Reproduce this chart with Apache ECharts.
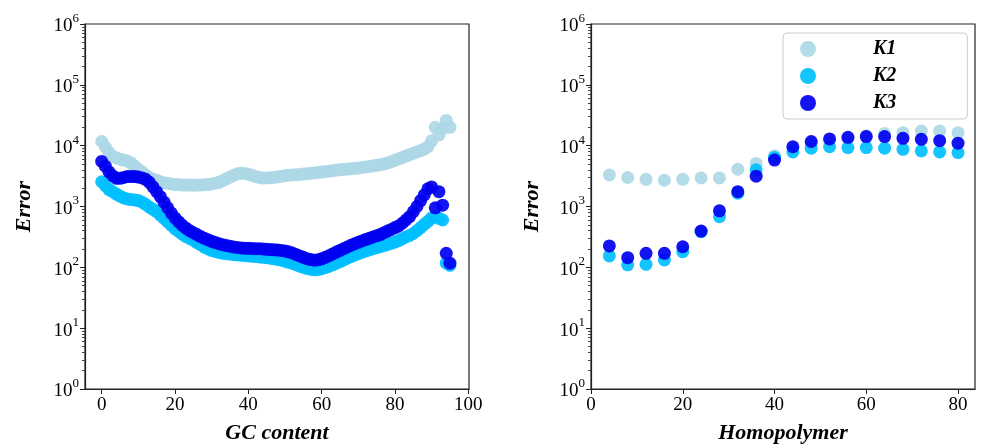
<!DOCTYPE html>
<html>
<head>
<meta charset="utf-8">
<script src="https://cdn.jsdelivr.net/npm/echarts@6/dist/echarts.min.js"></script>
<style>
  html, body { margin: 0; padding: 0; background: #fff; }
  #chart { width: 982px; height: 444px; }
</style>
</head>
<body>
<div id="chart"></div>
<script>
// left panel: error vs GC content
var gcContent = [0, 1, 2, 3, 4, 5, 6, 7, 8, 9, 10, 11, 12, 13, 14, 15, 16, 17, 18, 19,
  20, 21, 22, 23, 24, 25, 26, 27, 28, 29, 30, 31, 32, 33, 34, 35, 36, 37, 38, 39,
  40, 41, 42, 43, 44, 45, 46, 47, 48, 49, 50, 51, 52, 53, 54, 55, 56, 57, 58, 59,
  60, 61, 62, 63, 64, 65, 66, 67, 68, 69, 70, 71, 72, 73, 74, 75, 76, 77, 78, 79,
  80, 81, 82, 83, 84, 85, 86, 87, 88, 89, 90, 91, 92, 93, 94, 95];
var gcK1 = [11700, 9500, 7800, 6700, 6300, 6000, 5800, 5600, 5200, 4600,
  4100, 3700, 3300, 3000, 2800, 2700, 2550, 2450, 2400, 2350,
  2300, 2280, 2260, 2250, 2250, 2240, 2250, 2260, 2280, 2300,
  2350, 2420, 2500, 2650, 2850, 3050, 3250, 3450, 3520, 3500,
  3400, 3250, 3100, 3000, 2950, 2950, 2980, 3020, 3080, 3150,
  3200, 3250, 3300, 3330, 3370, 3420, 3470, 3520, 3570, 3620,
  3680, 3740, 3800, 3870, 3950, 4000, 4060, 4120, 4180, 4240,
  4300, 4380, 4460, 4550, 4650, 4750, 4850, 5000, 5200, 5450,
  5750, 6050, 6400, 6750, 7100, 7500, 7900, 8300, 8800, 9600,
  12000, 20000, 15000, 19000, 26000, 20000];
var gcK2 = [2550, 2200, 1900, 1750, 1600, 1480, 1380, 1330, 1300, 1280,
  1250, 1180, 1080, 980, 900, 820, 720, 640, 560, 490,
  430, 390, 350, 320, 300, 280, 255, 235, 215, 200,
  190, 182, 176, 171, 168, 165, 162, 160, 158, 156,
  154, 152, 150, 148, 146, 144, 141, 138, 135, 131,
  126, 121, 117, 111, 105, 100, 96, 93, 91, 92,
  95, 99, 104, 110, 117, 124, 132, 141, 150, 159,
  168, 177, 185, 194, 202, 210, 218, 228, 238, 248,
  260, 275, 295, 315, 335, 360, 400, 450, 510, 570,
  650, 690, 640, 600, 117, 108];
var gcK3 = [5500, 4600, 3700, 3200, 2900, 2900, 3000, 3100, 3100, 3100,
  3050, 2950, 2800, 2500, 2100, 1750, 1450, 1180, 950, 780,
  650, 560, 490, 440, 400, 370, 345, 320, 300, 283,
  268, 255, 245, 236, 228, 222, 216, 212, 208, 206,
  205, 204, 203, 202, 200, 198, 196, 194, 192, 190,
  186, 180, 172, 163, 154, 146, 139, 134, 131, 133,
  138, 146, 155, 166, 178, 190, 203, 216, 230, 244,
  258, 272, 286, 300, 315, 330, 345, 370, 395, 420,
  450, 480, 530, 600, 680, 820, 1000, 1250, 1550, 1950,
  2100, 950, 1750, 1050, 170, 117];

// right panel: error vs homopolymer length
var homopolymer = [4, 8, 12, 16, 20, 24, 28, 32, 36, 40, 44, 48, 52, 56, 60, 64, 68, 72, 76, 80];
var hpK1 = [3300, 3000, 2800, 2700, 2800, 2950, 2950, 4100, 5100, 6800,
  9000, 11000, 12000, 13000, 14500, 15900, 16300, 17400, 17400, 16300];
var hpK2 = [154, 110, 112, 132, 181, 385, 680, 1650, 4000, 6400,
  7900, 9100, 9600, 9300, 9300, 9100, 8700, 8200, 7900, 7700];
var hpK3 = [225, 144, 170, 170, 218, 395, 850, 1750, 3150, 5800,
  9600, 11700, 12900, 13700, 14100, 14100, 13200, 12700, 12100, 11000];

var seriesNames = ['K1', 'K2', 'K3'];
var colors = ['#add8e6', '#00bfff', '#0000f0'];
var gcTicks = [0, 20, 40, 60, 80, 100];
var hpTicks = [0, 20, 40, 60, 80];
var yTicks = [1, 10, 100, 1000, 10000, 100000, 1000000];

var yMinor = [];
yTicks.slice(0, -1).forEach(function (d) {
  for (var m = 2; m <= 9; m++) yMinor.push(d * m);
});

function pairs(xs, ys) {
  return xs.map(function (x, i) { return [x, ys[i]]; });
}

var serif = 'Liberation Serif';

function xAxisFor(grid, min, max, ticks, name) {
  return {
    type: 'value', gridIndex: grid, min: min, max: max, position: 'bottom',
    name: name, nameLocation: 'middle', nameGap: 33,
    nameTextStyle: { fontFamily: serif, fontSize: 22, fontWeight: 'bold', fontStyle: 'italic', color: '#000' },
    axisLine: { show: true, onZero: false, lineStyle: { color: '#222', width: 1.2 } },
    axisTick: { show: true, inside: false, length: 5, customValues: ticks, lineStyle: { color: '#222' } },
    axisLabel: { customValues: ticks, fontFamily: serif, fontSize: 19, color: '#000', margin: 7 },
    splitLine: { show: false }
  };
}

function yAxisFor(grid, gap) {
  return {
    type: 'log', logBase: 10, gridIndex: grid, min: 1, max: 1000000, position: 'left',
    name: 'Error', nameLocation: 'middle', nameGap: gap, nameRotate: 90,
    nameTextStyle: { fontFamily: serif, fontSize: 22, fontWeight: 'bold', fontStyle: 'italic', color: '#000' },
    axisLine: { show: true, onZero: false, lineStyle: { color: '#222', width: 1.2 } },
    axisTick: { show: true, length: 5, customValues: yTicks, lineStyle: { color: '#222' } },
    axisLabel: {
      customValues: yTicks, margin: 6,
      formatter: function (v) {
        return '{b|10}{s|' + Math.round(Math.log10(v)) + '}';
      },
      rich: {
        b: { fontFamily: serif, fontSize: 19, color: '#000', lineHeight: 24, verticalAlign: 'bottom' },
        s: { fontFamily: serif, fontSize: 13, color: '#000', lineHeight: 24, verticalAlign: 'top' }
      }
    },
    splitLine: { show: false }
  };
}

function minorAxisFor(grid) {
  return {
    type: 'log', logBase: 10, gridIndex: grid, min: 1, max: 1000000, position: 'left',
    axisLine: { show: false, onZero: false },
    axisTick: { show: true, length: 3, customValues: yMinor, lineStyle: { color: '#444' } },
    axisLabel: { show: false },
    splitLine: { show: false }
  };
}

function scatter(name, i, xIdx, yIdx, data) {
  return {
    name: name, type: 'scatter', xAxisIndex: xIdx, yAxisIndex: yIdx,
    symbolSize: 13, data: data,
    itemStyle: { color: colors[i], opacity: 0.92 },
    emphasis: { disabled: true }
  };
}

var chart = echarts.init(document.getElementById('chart'));

var option = {
  animation: false,
  backgroundColor: '#fff',
  grid: [
    { left: 85, top: 24, width: 384, height: 365, outerBoundsMode: 'none', containLabel: false,
      show: true, borderColor: '#222', borderWidth: 1.2 },
    { left: 591, top: 24, width: 384, height: 365, outerBoundsMode: 'none', containLabel: false,
      show: true, borderColor: '#222', borderWidth: 1.2 }
  ],
  xAxis: [
    xAxisFor(0, -4.55, 100.2, gcTicks, 'GC content'),
    xAxisFor(1, 0, 83.7, hpTicks, 'Homopolymer')
  ],
  yAxis: [
    yAxisFor(0, 50), minorAxisFor(0),
    yAxisFor(1, 48), minorAxisFor(1)
  ],
  legend: {
    data: seriesNames,
    orient: 'vertical', left: 783, top: 33,
    icon: 'circle', itemWidth: 16, itemHeight: 16, itemGap: 7,
    padding: [6, 71, 6, 17],
    borderColor: '#ccc', borderWidth: 1, borderRadius: 4,
    textStyle: { fontFamily: serif, fontSize: 20, fontWeight: 'bold', fontStyle: 'italic', color: '#000', padding: [0, 0, 0, 52] }
  },
  series: [
    scatter('K1', 0, 0, 0, pairs(gcContent, gcK1)),
    scatter('K2', 1, 0, 0, pairs(gcContent, gcK2)),
    scatter('K3', 2, 0, 0, pairs(gcContent, gcK3)),
    scatter('K1', 0, 1, 2, pairs(homopolymer, hpK1)),
    scatter('K2', 1, 1, 2, pairs(homopolymer, hpK2)),
    scatter('K3', 2, 1, 2, pairs(homopolymer, hpK3))
  ]
};

chart.setOption(option);
</script>
</body>
</html>
